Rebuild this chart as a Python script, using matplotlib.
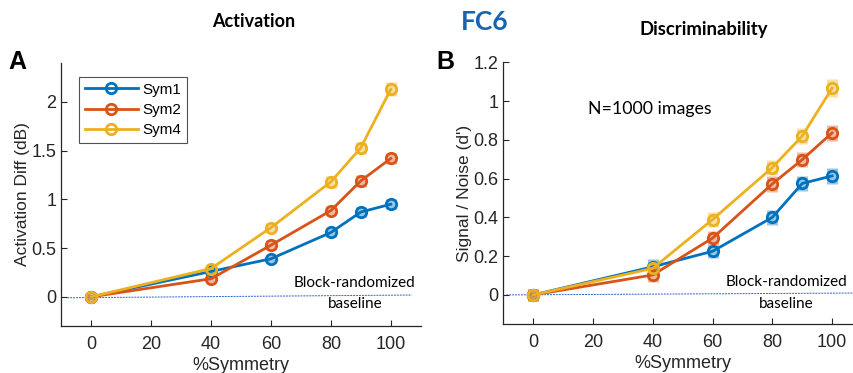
import numpy as np
import matplotlib.pyplot as plt
from matplotlib import rcParams

rcParams['font.family'] = 'sans-serif'
rcParams['font.sans-serif'] = ['Liberation Sans', 'DejaVu Sans']
rcParams['font.size'] = 9.5

# % symmetry levels
sym_pct = [0, 40, 60, 80, 90, 100]
series = ['Sym1', 'Sym2', 'Sym4']
colors = ['#0072BD', '#D95319', '#EDB120']

# activation difference (dB)
act_sym1 = [0.0, 0.26, 0.39, 0.66, 0.87, 0.95]
act_sym2 = [0.0, 0.185, 0.53, 0.885, 1.19, 1.42]
act_sym4 = [0.0, 0.29, 0.71, 1.18, 1.53, 2.13]
act_err1 = [0.03, 0.04, 0.04, 0.05, 0.05, 0.05]
act_err2 = [0.03, 0.04, 0.05, 0.05, 0.06, 0.06]
act_err4 = [0.03, 0.04, 0.05, 0.06, 0.06, 0.07]

# discriminability d'
dp_sym1 = [0.0, 0.145, 0.225, 0.40, 0.575, 0.614]
dp_sym2 = [0.0, 0.103, 0.293, 0.573, 0.698, 0.836]
dp_sym4 = [0.0, 0.137, 0.389, 0.657, 0.82, 1.067]
dp_err1 = [0.03, 0.04, 0.035, 0.04, 0.04, 0.04]
dp_err2 = [0.03, 0.035, 0.035, 0.04, 0.04, 0.043]
dp_err4 = [0.03, 0.035, 0.04, 0.04, 0.043, 0.045]

# block-randomized baseline (start, end)
base_x_a = [-8, 107]
base_y_a = [-0.01, 0.018]
base_x_b = [-9, 110]
base_y_b = [0.0, 0.01]

fig = plt.figure(figsize=(8.54, 3.73), dpi=100)
W, H = 854, 373


def make_axes(left, bottom, right, top):
    return fig.add_axes([left / W, 1 - bottom / H, (right - left) / W, (bottom - top) / H])


axA = make_axes(61.3, 326, 420.7, 63)
axB = make_axes(503.3, 324, 862, 62.3)

calibri = ['Lato', 'DejaVu Sans']


def draw(ax, ys, errs, base_x, base_y, legend=False):
    for y, e, c, name in zip(ys, errs, colors, series):
        ax.errorbar(sym_pct, y, yerr=e, fmt='none', ecolor=c, elinewidth=8,
                    alpha=0.4, capsize=0, zorder=2)
        ax.plot(sym_pct, y, '-o', color=c, lw=2, ms=7.5, mew=2,
                mfc='none', label=name, zorder=3)
    ax.plot(base_x, base_y, ls=(0, (2, 1)), color='#2a5fd0', lw=0.7, zorder=1)
    for s in ['top', 'right']:
        ax.spines[s].set_visible(False)
    for s in ['left', 'bottom']:
        ax.spines[s].set_color('#262626')
        ax.spines[s].set_linewidth(0.9)
    ax.tick_params(colors='#262626', labelsize=13, length=4, width=0.8,
                   direction='in')
    ax.tick_params(axis='x', pad=7)
    ax.set_xticks([0, 20, 40, 60, 80, 100])
    ax.set_xlim(-10, 110)
    ax.set_xlabel('%Symmetry', fontsize=13, color='#262626', labelpad=3)
    if legend:
        leg = ax.legend(loc='upper left', bbox_to_anchor=(0.05, 0.946),
                        borderaxespad=0, fontsize=11, frameon=True,
                        fancybox=False, handlelength=3.5, borderpad=0.35,
                        labelspacing=0.42, handletextpad=0.3)
        leg.get_frame().set_edgecolor('#262626')
        leg.get_frame().set_linewidth(0.8)


draw(axA, [act_sym1, act_sym2, act_sym4], [act_err1, act_err2, act_err4],
     base_x_a, base_y_a, legend=True)
axA.set_ylim(-0.3, 2.4)
axA.set_yticks([0, 0.5, 1, 1.5, 2])
axA.set_yticklabels(['0', '0.5', '1', '1.5', '2'])
axA.set_ylabel('Activation Diff (dB)', fontsize=12.5, color='#262626', labelpad=1)
axA.text(88, 0.145, 'Block-randomized', ha='center', va='center',
         fontsize=11, family=calibri)
axA.text(88, -0.075, 'baseline', ha='center', va='center',
         fontsize=11, family=calibri)

draw(axB, [dp_sym1, dp_sym2, dp_sym4], [dp_err1, dp_err2, dp_err4],
     base_x_b, base_y_b)
axB.set_ylim(-0.15, 1.2)
axB.set_yticks([0, 0.2, 0.4, 0.6, 0.8, 1, 1.2])
axB.set_yticklabels(['0', '0.2', '0.4', '0.6', '0.8', '1', '1.2'])
axB.set_ylabel("Signal / Noise (d')", fontsize=12.5, color='#262626', labelpad=1)
axB.text(84.7, 0.065, 'Block-randomized', ha='center', va='center',
         fontsize=11, family=calibri)
axB.text(84.7, -0.046, 'baseline', ha='center', va='center',
         fontsize=11, family=calibri)
axB.text(39, 0.96, 'N=1000 images', ha='center', va='center',
         fontsize=12.8, family=calibri)

fig.text(254 / W, 1 - 21.7 / H, 'Activation', ha='center', va='center',
         fontsize=13, fontweight='bold', family=calibri)
fig.text(704 / W, 1 - 30 / H, 'Discriminability', ha='center', va='center',
         fontsize=13.3, fontweight='bold', family=calibri)
fig.text(485 / W, 1 - 21.7 / H, 'FC6', ha='center', va='center',
         fontsize=19, fontweight='bold', color='#1565B0', family=calibri)
fig.text(17 / W, 1 - 62 / H, 'A', ha='center', va='center',
         fontsize=18, fontweight='bold')
fig.text(445.7 / W, 1 - 62 / H, 'B', ha='center', va='center',
         fontsize=18, fontweight='bold')

fig.savefig('out.png', dpi=100)
